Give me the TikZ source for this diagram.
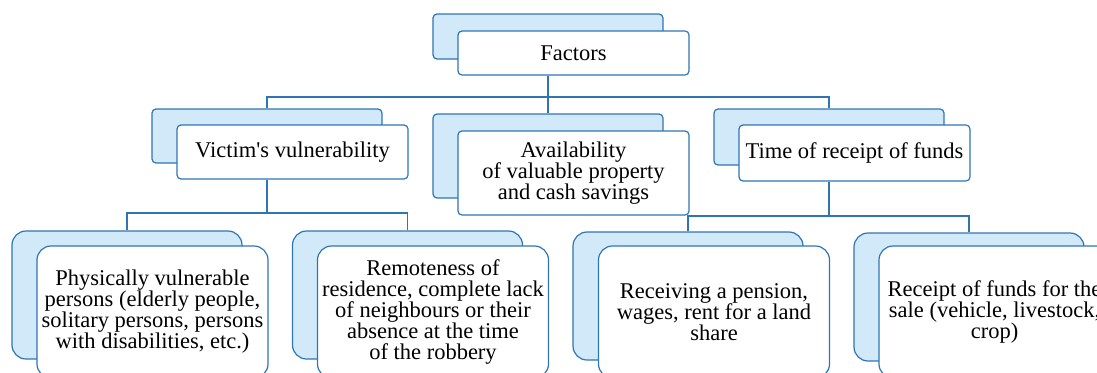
\documentclass[tikz,border=0pt]{standalone}
\usepackage{fontspec}
\setmainfont{Liberation Serif}[Ligatures=TeXOff]
\definecolor{bord}{HTML}{2E75B6}
\definecolor{backfill}{HTML}{D2E9FA}
\begin{document}
\begin{tikzpicture}[x=1pt,y=-1pt,
  box/.style={draw=bord, line width=1.2pt, rounded corners=4pt, inner sep=0pt, align=center, font=\fontsize{22.5}{21}\selectfont},
  backbox/.style={box, fill=backfill},
  frontbox/.style={box, fill=white},
  big/.style={rounded corners=14pt},
  conn/.style={draw=bord, line width=1.3pt}]
\useasboundingbox (0,0) rectangle (1097,372);
\clip (0,0) rectangle (1097,372);
% top
\node[backbox, minimum width=230pt, minimum height=45pt] (fB) at (548,36.5) {};
\node[frontbox, minimum width=231pt, minimum height=44pt] (fF) at (573.5,53) {Factors};
% second level
\node[backbox, minimum width=230pt, minimum height=54pt] (vB) at (267,136) {};
\node[frontbox, minimum width=231pt, minimum height=54pt] (vF) at (292.5,152) {Victim's vulnerability};
\node[backbox, minimum width=230pt, minimum height=84pt] (aB) at (548,156) {};
\node[frontbox, minimum width=231pt, minimum height=84pt] (aF) at (573.5,173) {Availability\\of valuable property\\and cash savings};
\node[backbox, minimum width=230pt, minimum height=56pt] (tB) at (829,137) {};
\node[frontbox, minimum width=231pt, minimum height=56pt] (tF) at (854.5,153) {Time of receipt of funds};
% bottom level
\node[backbox, big, minimum width=230pt, minimum height=128pt] (p1B) at (127,295) {};
\node[frontbox, big, minimum width=231pt, minimum height=132pt] (p1F) at (152.5,312) {Physically vulnerable\\persons (elderly people,\\solitary persons, persons\\with disabilities, etc.)};
\node[backbox, big, minimum width=230pt, minimum height=128pt] (p2B) at (407.5,295) {};
\node[frontbox, big, minimum width=231pt, minimum height=132pt] (p2F) at (433,312) {Remoteness of\\residence, complete lack\\of neighbours or their\\absence at the time\\of the robbery};
\node[backbox, big, minimum width=230pt, minimum height=128pt] (p3B) at (688,296) {};
\node[frontbox, big, minimum width=231pt, minimum height=132pt] (p3F) at (714,312) {Receiving a pension,\\wages, rent for a land\\share};
\node[backbox, big, minimum width=230pt, minimum height=128pt] (p4B) at (969,297) {};
\node[frontbox, big, minimum width=231pt, minimum height=132pt] (p4F) at (994.5,312) {Receipt of funds for the\\sale (vehicle, livestock,\\crop)};
% connectors
\coordinate (j0) at (548,97);
\draw[conn] (fB.center |- fF.south) -- (j0);
\draw[conn] (vB.north) |- (j0) -| (tB.north);
\draw[conn] (j0) -- (aB.north);
\coordinate (j1) at (267,213);
\draw[conn] (vB.center |- vF.south) -- (j1);
\draw[conn] (p1B.north) |- (j1) -| (p2B.north);
\coordinate (j2) at (829,216);
\draw[conn] (tB.center |- tF.south) -- (j2);
\draw[conn] (p3B.north) |- (j2) -| (p4B.north);
\end{tikzpicture}
\end{document}
